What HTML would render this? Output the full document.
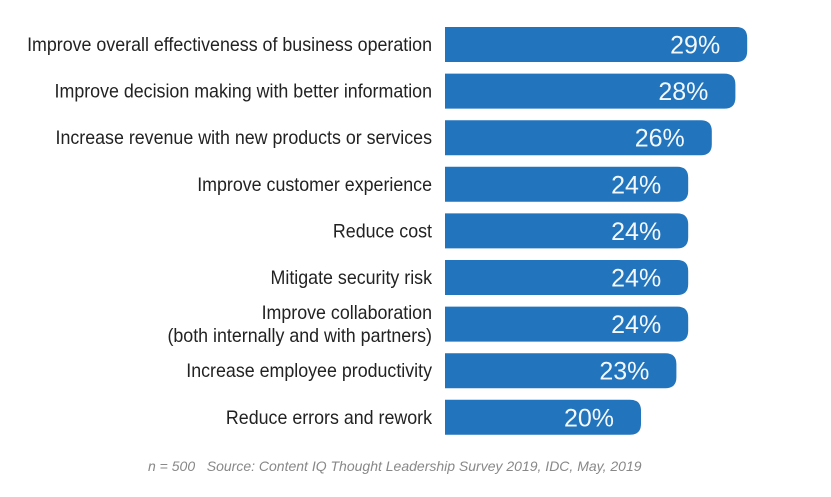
<!DOCTYPE html>
<html><head><meta charset="utf-8"><style>
html,body{margin:0;padding:0;background:#fff;width:831px;height:497px;overflow:hidden}
svg{display:block}
text{white-space:pre}
</style></head><body>
<svg id="chart" width="831" height="497" xmlns="http://www.w3.org/2000/svg"></svg>
<script>
const categories = [
  ["Improve overall effectiveness of business operation"],
  ["Improve decision making with better information"],
  ["Increase revenue with new products or services"],
  ["Improve customer experience"],
  ["Reduce cost"],
  ["Mitigate security risk"],
  ["Improve collaboration","(both internally and with partners)"],
  ["Increase employee productivity"],
  ["Reduce errors and rework"]
];
const values = [29, 28, 26, 24, 24, 24, 24, 23, 20];
const valueLabels = ["29%","28%","26%","24%","24%","24%","24%","23%","20%"];

const NS = "http://www.w3.org/2000/svg";
const svg = document.getElementById("chart");
const x0 = 445, top0 = 27, step = 46.6, barH = 35;
function xScale(v){ return v * 11.8 - 40; }
function yScale(i){ return top0 + i * step; }
function mk(tag, attrs){ const e=document.createElementNS(NS,tag); for(const k in attrs) e.setAttribute(k,attrs[k]); return e; }

values.forEach((v,i)=>{
  const y = yScale(i), w = xScale(v), r = 11;
  const d = `M${x0},${y} H${x0+w-r} Q${x0+w},${y} ${x0+w},${y+r} V${y+barH-r} Q${x0+w},${y+barH} ${x0+w-r},${y+barH} H${x0} Z`;
  const bar = mk("path",{d:d,fill:"#2274bd"});
  
  
  svg.appendChild(bar);
  const vt = mk("text",{x:x0+w-27,y:y+barH/2+9,"text-anchor":"end","font-family":"Liberation Sans, sans-serif","font-size":"25","fill":"#f4f8fc"});
  vt.textContent = valueLabels[i];
  
  
  svg.appendChild(vt);
  const lines = categories[i];
  const cy = y + barH/2;
  lines.forEach((ln,j)=>{
    const ly = cy + 6.5 + (j - (lines.length-1)/2) * 23;
    const t = mk("text",{x:432,y:ly,"text-anchor":"end","font-family":"Liberation Sans, sans-serif","font-size":"19.5","fill":"#222"});
    t.textContent = ln;
    t.setAttribute('transform', `translate(432,0) scale(0.915,1) translate(-432,0)`);
    
    
    svg.appendChild(t);
  });
});
const src = mk("text",{x:148,y:471,"font-family":"Liberation Sans, sans-serif","font-size":"14","font-style":"italic","fill":"#888"});
src.textContent = "n = 500   Source: Content IQ Thought Leadership Survey 2019, IDC, May, 2019";


svg.appendChild(src);
</script>
</body></html>
